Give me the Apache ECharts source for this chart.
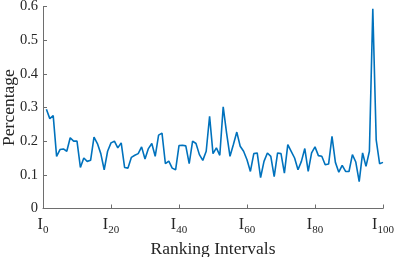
<!DOCTYPE html>
<html>
<head>
<meta charset="utf-8">
<script src="https://cdn.jsdelivr.net/npm/echarts@6/dist/echarts.min.js"></script>
<style>
html,body{margin:0;padding:0;background:#fff;}
#c{width:399px;height:257px;}
</style>
</head>
<body>
<div id="c"></div>
<script>
var xTicks = [0, 20, 40, 60, 80, 100];
var yTicks = [0, 0.1, 0.2, 0.3, 0.4, 0.5, 0.6];
var intervals = [];
for (var k = 1; k <= 100; k++) intervals.push(k);
var percentage = [
  0.295, 0.267, 0.276, 0.155, 0.175, 0.177, 0.170, 0.210, 0.200, 0.200,
  0.122, 0.150, 0.140, 0.143, 0.212, 0.193, 0.163, 0.115, 0.170, 0.195,
  0.200, 0.180, 0.195, 0.122, 0.120, 0.152, 0.158, 0.163, 0.183, 0.147,
  0.178, 0.193, 0.155, 0.218, 0.224, 0.133, 0.141, 0.120, 0.115, 0.187,
  0.188, 0.186, 0.133, 0.200, 0.193, 0.160, 0.143, 0.170, 0.274, 0.163,
  0.180, 0.158, 0.302, 0.224, 0.155, 0.190, 0.227, 0.185, 0.170, 0.145,
  0.110, 0.163, 0.165, 0.092, 0.140, 0.165, 0.155, 0.095, 0.165, 0.163,
  0.105, 0.190, 0.170, 0.150, 0.115, 0.140, 0.178, 0.110, 0.165, 0.183,
  0.157, 0.155, 0.130, 0.132, 0.214, 0.137, 0.108, 0.128, 0.110, 0.110,
  0.160, 0.138, 0.080, 0.165, 0.125, 0.170, 0.593, 0.204, 0.133, 0.137
];
var xName = 'Ranking Intervals';
var yName = 'Percentage';

var serif = '"Liberation Serif", "DejaVu Serif", serif';
var txt = '#262626';
var axisCol = '#6e6e6e';

var chart = echarts.init(document.getElementById('c'), null, {renderer: 'canvas'});
var data = intervals.map(function (x, i) { return [x, percentage[i]]; });
chart.setOption({
  animation: false,
  grid: {left: 43, right: 16, top: 6.5, bottom: 48.5, containLabel: false, outerBoundsMode: 'none'},
  xAxis: {
    type: 'value', min: xTicks[0], max: xTicks[xTicks.length - 1], interval: 20,
    name: xName, nameLocation: 'middle', nameGap: 32, nameMoveOverlap: false,
    nameTextStyle: {fontFamily: serif, fontSize: 17.5, color: txt},
    axisLine: {show: true, onZero: false, lineStyle: {color: axisCol, width: 1}},
    axisTick: {show: true, inside: true, length: 4, lineStyle: {color: axisCol}},
    splitLine: {show: false},
    axisLabel: {
      margin: 8,
      formatter: function (v) { return '{i|I}{s|' + v + '}'; },
      rich: {
        i: {fontFamily: serif, fontSize: 16, lineHeight: 16, verticalAlign: 'top', color: txt},
        s: {fontFamily: serif, fontSize: 11, lineHeight: 11, padding: [11, 0, 0, 0], color: txt}
      }
    }
  },
  yAxis: {
    type: 'value', min: yTicks[0], max: yTicks[yTicks.length - 1], interval: 0.1,
    name: yName, nameLocation: 'middle', nameGap: 25, nameRotate: 90, nameMoveOverlap: false,
    nameTextStyle: {fontFamily: serif, fontSize: 17.5, color: txt},
    axisLine: {show: true, onZero: false, lineStyle: {color: axisCol, width: 1}},
    axisTick: {show: true, inside: true, length: 4, lineStyle: {color: axisCol}},
    splitLine: {show: false},
    axisLabel: {margin: 5, fontFamily: serif, fontSize: 14.5, color: txt,
      formatter: function (v) { return String(Math.round(v * 10) / 10); }}
  },
  series: [{
    type: 'line', data: data, showSymbol: false, symbol: 'none',
    lineStyle: {color: '#0072BD', width: 1.6}
  }]
});
</script>
</body>
</html>
